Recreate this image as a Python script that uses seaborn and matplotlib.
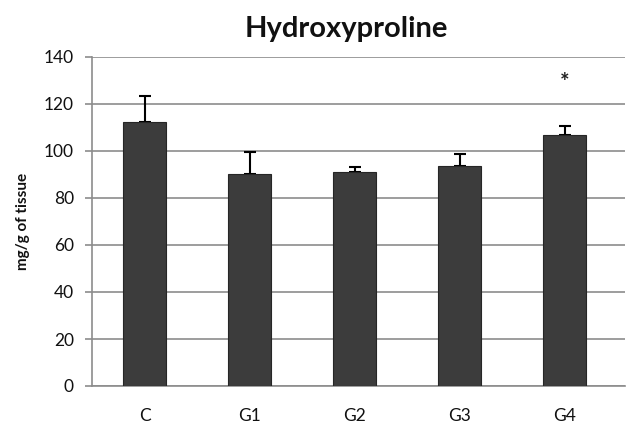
import matplotlib
matplotlib.use("Agg")
import matplotlib.pyplot as plt
import seaborn as sns
import pandas as pd
import numpy as np

groups = ["C", "G1", "G2", "G3", "G4"]
means = [112.5, 90.0, 90.9, 93.8, 106.8]
errors = [11.0, 9.5, 2.5, 5.0, 4.0]
star_group = "G4"
star_y = 129
yticks = [0, 20, 40, 60, 80, 100, 120, 140]

sns.set_theme(style="white")
plt.rcParams['font.family'] = ['Lato', 'DejaVu Sans']

df = pd.DataFrame({"group": groups, "value": means})

fig = plt.figure(figsize=(6.28, 4.25), dpi=100)
ax = fig.add_axes([92/628, 1-386/425, 533/628, (386-57)/425])

sns.barplot(data=df, x="group", y="value", ax=ax, color="#3c3c3c",
            width=0.41, edgecolor="#262626", linewidth=0.8, saturation=1, zorder=3)

x = np.arange(len(groups))
ax.errorbar(x, means, yerr=[np.zeros(len(errors)), errors], fmt="none",
            ecolor="black", elinewidth=1.5, capsize=4, capthick=1.5, zorder=2)

ax.text(groups.index(star_group), star_y, "*", ha="center", va="center",
        fontsize=16, fontweight="bold", color="#222222")

ax.set_ylim(0, 140)
ax.set_xlim(-0.5, 4.576)
ax.set_yticks(yticks)
ax.yaxis.grid(True, color="#8c8c8c", linewidth=1.2, zorder=0)
ax.set_axisbelow(True)
for s in ["top", "right"]:
    ax.spines[s].set_visible(False)
for s in ["left", "bottom"]:
    ax.spines[s].set_color("#8c8c8c")
    ax.spines[s].set_linewidth(1.2)
ax.tick_params(axis="y", which="both", left=True, length=5, width=1.2,
               color="#8c8c8c", labelsize=12.5, pad=8, labelcolor="#111111")
ax.tick_params(axis="x", bottom=False, labelsize=12.5, pad=10, labelcolor="#111111")
ax.set_xlabel("")
ax.set_ylabel("mg/g of tissue", fontsize=11, fontweight="bold", labelpad=10, color="#111111")
fig.text(346/628, 1-29/425, "Hydroxyproline", ha="center", va="center",
         fontsize=21, fontweight="bold", color="#111111")

fig.savefig("out.png", dpi=100)
